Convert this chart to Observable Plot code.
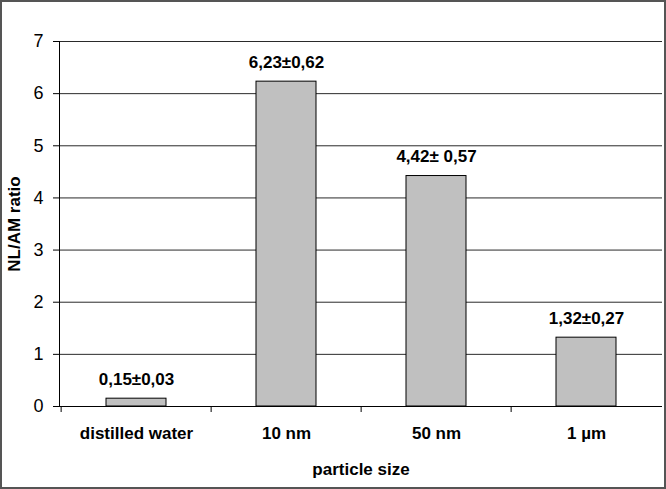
<!DOCTYPE html>
<html>
<head>
<meta charset="utf-8">
<script src="https://cdn.jsdelivr.net/npm/d3@7"></script>
<script src="https://cdn.jsdelivr.net/npm/@observablehq/plot@0.6"></script>
<style>
  html, body { margin: 0; padding: 0; background: #fff; }
  #chart svg { display: block; outline: 2px solid #555; outline-offset: -2px; }
</style>
</head>
<body>
<div id="chart"></div>
<script>
const categories = ["distilled water", "10 nm", "50 nm", "1 µm"];
const values = [0.15, 6.23, 4.42, 1.32];
const errors = [0.03, 0.62, 0.57, 0.27];
const valueLabels = ["0,15±0,03", "6,23±0,62", "4,42± 0,57", "1,32±0,27"];
const yTicks = [0, 1, 2, 3, 4, 5, 6, 7];
const yTitle = "NL/AM ratio";
const xTitle = "particle size";

const data = categories.map((c, i) => ({category: c, value: values[i], error: errors[i], label: valueLabels[i]}));

const W = 666, H = 489, mL = 59, mR = 4, mT = 41, mB = 83;
const step = (W - mL - mR) / categories.length;
const font = "'Liberation Sans', Arial, sans-serif";

const chart = Plot.plot({
  width: W, height: H,
  marginLeft: mL, marginRight: mR, marginTop: mT, marginBottom: mB,
  style: {fontFamily: font, background: "#fff", color: "#000"},
  x: {domain: categories, padding: 0, label: null},
  y: {domain: [0, 7], label: null},
  marks: [
    Plot.ruleY(yTicks.filter(d => d > 0), {stroke: "#2a2a2a", strokeWidth: 1}),
    Plot.barY(data, {x: "category", y: "value", fill: "#c0c0c0", stroke: "#000", strokeWidth: 1, insetLeft: 45, insetRight: 45}),
    Plot.text(data, {x: "category", y: "value", text: "label", lineAnchor: "bottom", dy: -14, fontSize: 17, fontWeight: "bold", fill: "#000"}),
    Plot.axisY({ticks: yTicks, tickSize: 6, tickPadding: 10, fontSize: 18, tickFormat: d => String(d), label: null}),
    Plot.axisX({tickSize: 0, tickPadding: 20, fontSize: 17, fontWeight: "bold", label: null}),
    Plot.ruleX(categories, {x: d => d, dx: -step / 2, y1: 0, y2: 0, insetBottom: -6, stroke: "#000"}),
    Plot.ruleY([0], {stroke: "#000"}),
    Plot.frame({anchor: "left", stroke: "#000"}),
    Plot.text([yTitle], {frameAnchor: "left", textAnchor: "middle", lineAnchor: "middle", dx: -45, rotate: -90, fontSize: 17, fontWeight: "bold", fill: "#000"}),
    Plot.text([xTitle], {frameAnchor: "bottom", dy: 68, fontSize: 17, fontWeight: "bold", fill: "#000"})
  ]
});
document.getElementById("chart").appendChild(chart);
</script>
</body>
</html>
